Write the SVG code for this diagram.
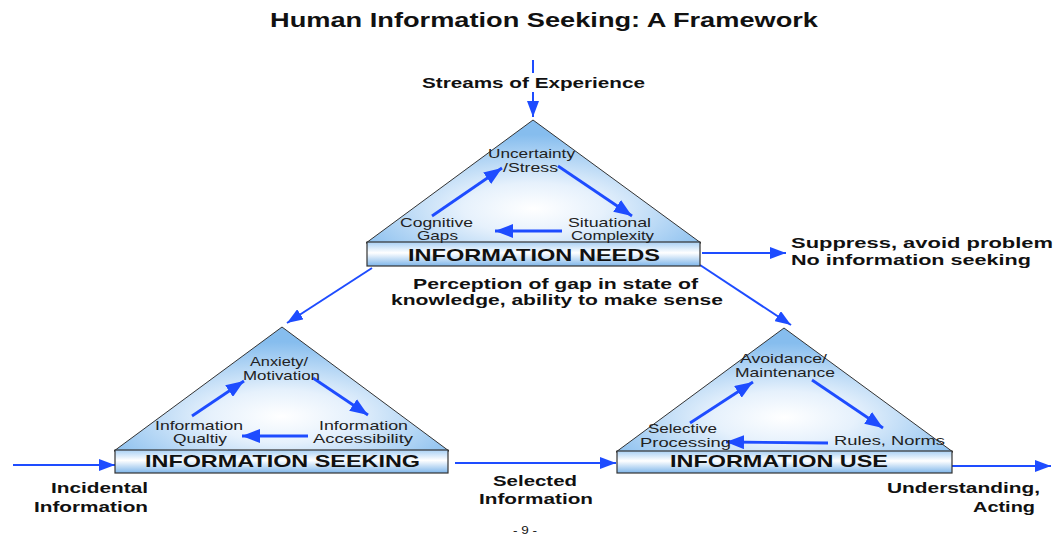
<svg xmlns="http://www.w3.org/2000/svg" width="1053" height="539" viewBox="0 0 1053 539">
  <style>
    .bold { font-family: "Liberation Sans", Arial, sans-serif; font-weight: bold; fill: #111; }
    .title { font-size: 20px; }
    .lbl { font-size: 15px; }
    .box-lbl { font-size: 17px; }
    .inner { font-family: "Liberation Sans", Arial, sans-serif; font-size: 13.5px; fill: #222; }
    .page { font-family: "Liberation Sans", Arial, sans-serif; font-size: 10px; fill: #111; }
    .tri { fill: url(#triFill); stroke: #333; stroke-width: 1; }
    .slab { fill: url(#slabFill); stroke: #333; stroke-width: 1.2; }
    .conn { stroke: #1e4cff; stroke-width: 2; fill: none; }
    .cycle { stroke: #1e4cff; stroke-width: 2.8; fill: none; marker-end: url(#headBig); }
    .flow { marker-end: url(#head); }
  </style>
  <defs>
    <radialGradient id="triFill" cx="0.5" cy="0.72" r="0.6">
      <stop offset="0" stop-color="#ffffff"/>
      <stop offset="0.35" stop-color="#e6f1fc"/>
      <stop offset="1" stop-color="#86bdee"/>
    </radialGradient>
    <linearGradient id="slabFill" x1="0" y1="0" x2="0" y2="1">
      <stop offset="0" stop-color="#a9d0f4"/>
      <stop offset="0.45" stop-color="#ffffff"/>
      <stop offset="1" stop-color="#7fb6ea"/>
    </linearGradient>
    <marker id="head" markerUnits="userSpaceOnUse" viewBox="0 0 16 12" refX="16" refY="6" markerWidth="16" markerHeight="12" orient="auto">
      <path d="M0,0 L16,6 L0,12 Z" fill="#1e4cff"/>
    </marker>
    <marker id="headBig" markerUnits="userSpaceOnUse" viewBox="0 0 18 14" refX="18" refY="7" markerWidth="18" markerHeight="14" orient="auto">
      <path d="M0,0 L18,7 L0,14 Z" fill="#1e4cff"/>
    </marker>
  </defs>

  <rect width="1053" height="539" fill="#ffffff"/>

  <text class="bold title" x="270" y="27" textLength="548" lengthAdjust="spacingAndGlyphs">Human Information Seeking: A Framework</text>

  <!-- flows between the three stages -->
  <g id="connectors">
    <line class="conn" x1="533" y1="60" x2="533" y2="73"/>
    <line class="conn flow" x1="533" y1="92" x2="533" y2="117"/>
    <line class="conn flow" x1="372" y1="268" x2="287" y2="323"/>
    <line class="conn flow" x1="700" y1="265" x2="791" y2="325"/>
    <line class="conn flow" x1="702" y1="253" x2="786" y2="253"/>
    <line class="conn flow" x1="13" y1="465" x2="115" y2="465"/>
    <line class="conn flow" x1="455" y1="463" x2="616" y2="463"/>
    <line class="conn flow" x1="952" y1="466" x2="1051" y2="466"/>
  </g>

  <!-- stage: information needs -->
  <g id="needs">
    <polygon class="tri" points="533,120 366,243 701,243"/>
    <rect class="slab" x="367" y="242" width="333" height="24"/>
    <line class="cycle" x1="432" y1="216" x2="502" y2="168"/>
    <line class="cycle" x1="558" y1="166" x2="632" y2="216"/>
    <line class="cycle" x1="562" y1="231" x2="495" y2="231"/>
    <text class="inner" x="488" y="158" textLength="87" lengthAdjust="spacingAndGlyphs">Uncertainty</text>
    <text class="inner" x="503" y="172" textLength="55" lengthAdjust="spacingAndGlyphs">/Stress</text>
    <text class="inner" x="400" y="227" textLength="73" lengthAdjust="spacingAndGlyphs">Cognitive</text>
    <text class="inner" x="417" y="240" textLength="41" lengthAdjust="spacingAndGlyphs">Gaps</text>
    <text class="inner" x="568" y="227" textLength="83" lengthAdjust="spacingAndGlyphs">Situational</text>
    <text class="inner" x="571" y="240" textLength="83" lengthAdjust="spacingAndGlyphs">Complexity</text>
    <text class="bold box-lbl" x="408" y="261" textLength="252" lengthAdjust="spacingAndGlyphs">INFORMATION NEEDS</text>
  </g>

  <!-- stage: information seeking -->
  <g id="seeking">
    <polygon class="tri" points="282,327 114,451 449,451"/>
    <rect class="slab" x="115" y="450" width="333" height="23"/>
    <line class="cycle" x1="192" y1="416" x2="244" y2="381"/>
    <line class="cycle" x1="313" y1="378" x2="368" y2="415"/>
    <line class="cycle" x1="308" y1="436" x2="242" y2="436"/>
    <text class="inner" x="250" y="366" textLength="58" lengthAdjust="spacingAndGlyphs">Anxiety/</text>
    <text class="inner" x="243" y="380" textLength="77" lengthAdjust="spacingAndGlyphs">Motivation</text>
    <text class="inner" x="155" y="430" textLength="88" lengthAdjust="spacingAndGlyphs">Information</text>
    <text class="inner" x="173" y="443" textLength="54" lengthAdjust="spacingAndGlyphs">Qualtiy</text>
    <text class="inner" x="319" y="430" textLength="89" lengthAdjust="spacingAndGlyphs">Information</text>
    <text class="inner" x="313" y="443" textLength="100" lengthAdjust="spacingAndGlyphs">Accessibility</text>
    <text class="bold box-lbl" x="145" y="467" textLength="275" lengthAdjust="spacingAndGlyphs">INFORMATION SEEKING</text>
  </g>

  <!-- stage: information use -->
  <g id="use">
    <polygon class="tri" points="784,328 616,452 953,452"/>
    <rect class="slab" x="617" y="451" width="335" height="22"/>
    <line class="cycle" x1="690" y1="423" x2="753" y2="382"/>
    <line class="cycle" x1="812" y1="380" x2="883" y2="428"/>
    <line class="cycle" x1="828" y1="443" x2="726" y2="442"/>
    <text class="inner" x="740" y="363" textLength="87" lengthAdjust="spacingAndGlyphs">Avoidance/</text>
    <text class="inner" x="735" y="377" textLength="100" lengthAdjust="spacingAndGlyphs">Maintenance</text>
    <text class="inner" x="648" y="433" textLength="69" lengthAdjust="spacingAndGlyphs">Selective</text>
    <text class="inner" x="640" y="447" textLength="91" lengthAdjust="spacingAndGlyphs">Processing</text>
    <text class="inner" x="834" y="445" textLength="111" lengthAdjust="spacingAndGlyphs">Rules, Norms</text>
    <text class="bold box-lbl" x="670" y="467" textLength="218" lengthAdjust="spacingAndGlyphs">INFORMATION USE</text>
  </g>

  <!-- connector labels -->
  <g id="labels">
    <text class="bold lbl" x="422" y="88" textLength="223" lengthAdjust="spacingAndGlyphs">Streams of Experience</text>
    <text class="bold lbl" x="413" y="289" textLength="285" lengthAdjust="spacingAndGlyphs">Perception of gap in state of</text>
    <text class="bold lbl" x="391" y="305" textLength="332" lengthAdjust="spacingAndGlyphs">knowledge, ability to make sense</text>
    <text class="bold lbl" x="791" y="248" textLength="262" lengthAdjust="spacingAndGlyphs">Suppress, avoid problem</text>
    <text class="bold lbl" x="791" y="265" textLength="240" lengthAdjust="spacingAndGlyphs">No information seeking</text>
    <text class="bold lbl" x="51" y="493" textLength="97" lengthAdjust="spacingAndGlyphs">Incidental</text>
    <text class="bold lbl" x="34" y="512" textLength="114" lengthAdjust="spacingAndGlyphs">Information</text>
    <text class="bold lbl" x="493" y="486" textLength="84" lengthAdjust="spacingAndGlyphs">Selected</text>
    <text class="bold lbl" x="479" y="504" textLength="114" lengthAdjust="spacingAndGlyphs">Information</text>
    <text class="bold lbl" x="887" y="493" textLength="153" lengthAdjust="spacingAndGlyphs">Understanding,</text>
    <text class="bold lbl" x="973" y="512" textLength="62" lengthAdjust="spacingAndGlyphs">Acting</text>
    <text class="page" x="513" y="534" textLength="24" lengthAdjust="spacingAndGlyphs">- 9 -</text>
  </g>
</svg>
